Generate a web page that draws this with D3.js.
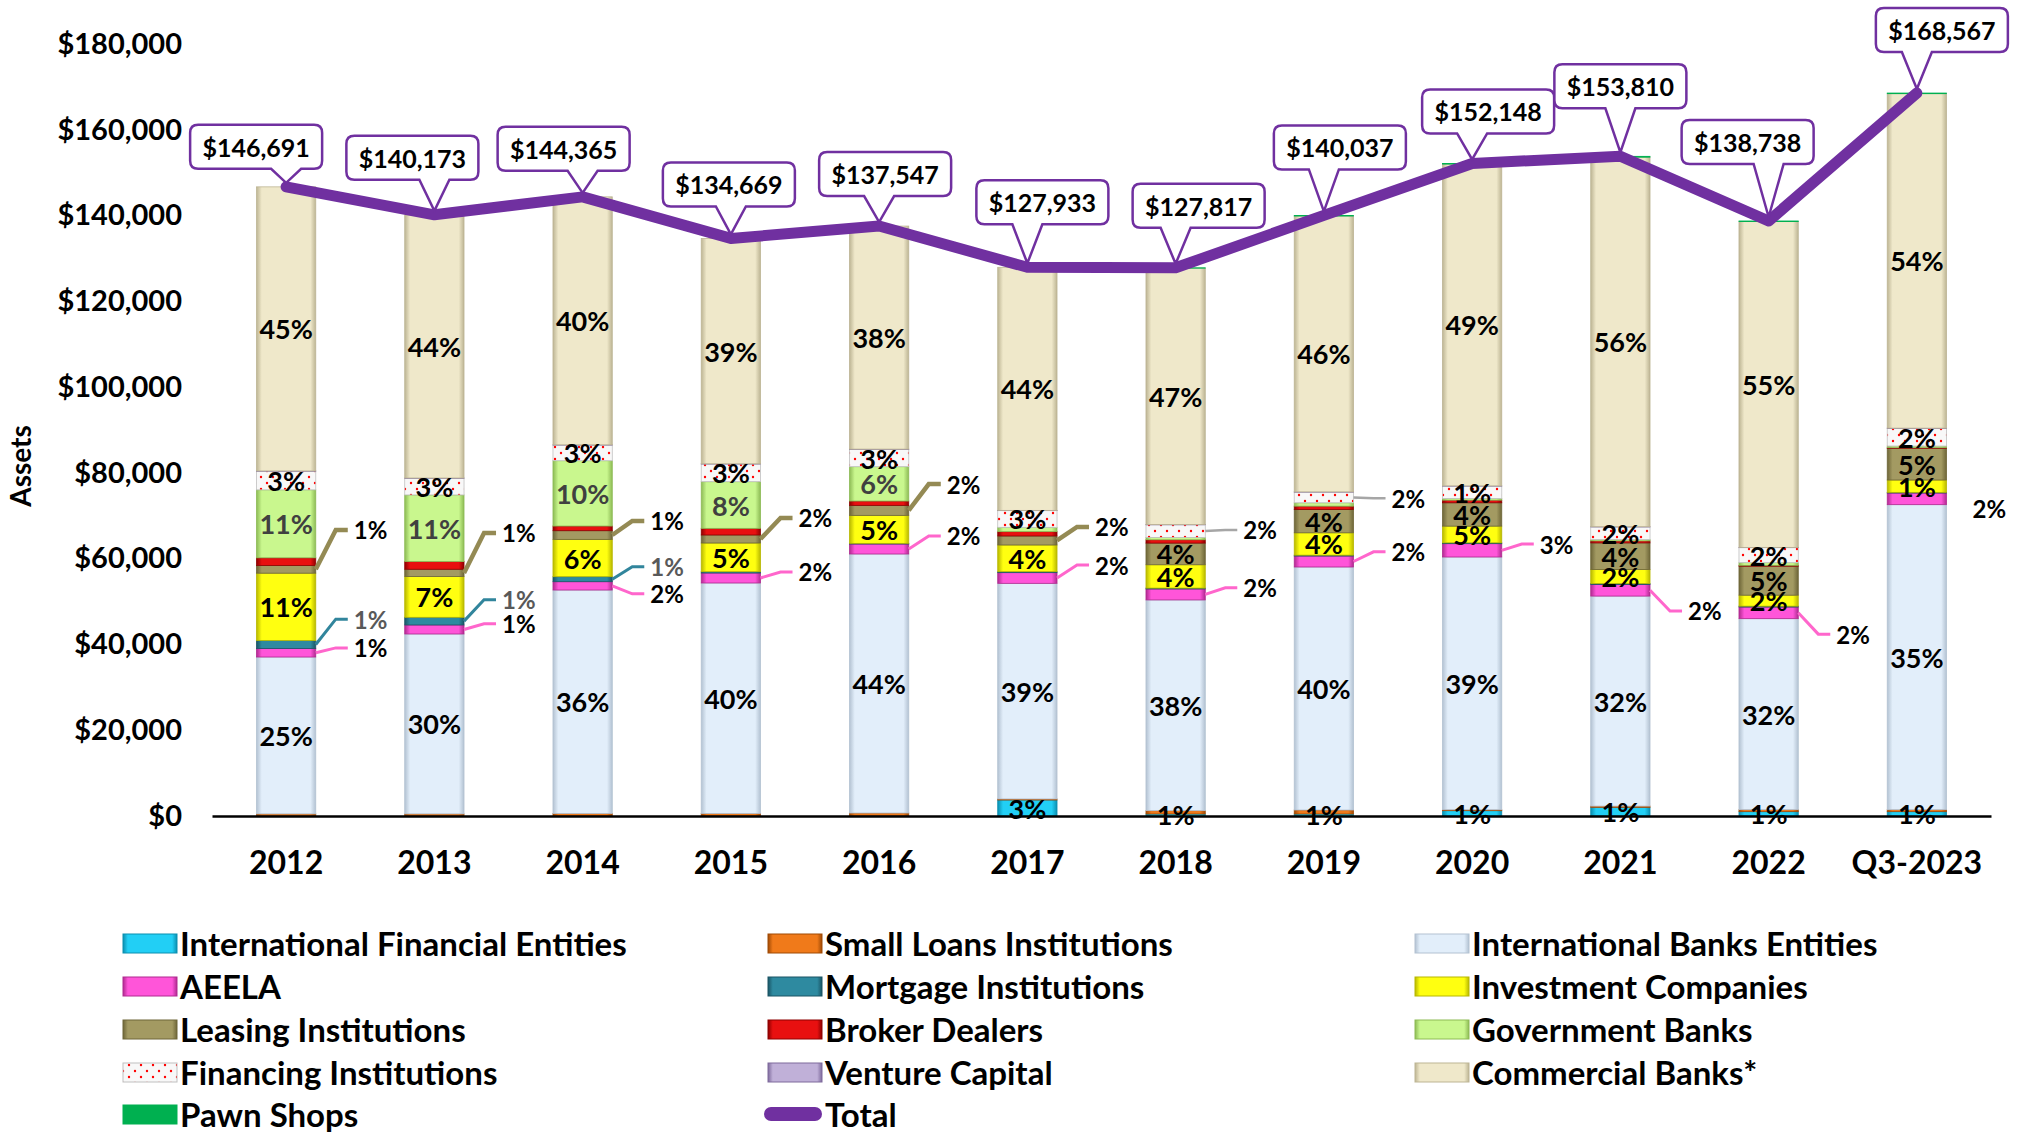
<!DOCTYPE html>
<html>
<head>
<meta charset="utf-8">
<script src="https://cdn.jsdelivr.net/npm/d3@7"></script>
<style>
  body { margin: 0; background: #fff; }
  text { font-family: Lato, "Open Sans", sans-serif; font-weight: 700; }
</style>
</head>
<body>
<div id="chart"></div>
<script>
// values in $ millions
var years = ["2012", "2013", "2014", "2015", "2016", "2017", "2018", "2019", "2020", "2021", "2022", "Q3-2023"];
var totals = [146691, 140173, 144365, 134669, 137547, 127933, 127817, 140037, 152148, 153810, 138738, 168567];

var intlFinancial = [0, 0, 0, 0, 0, 3730, 470, 470, 1240, 2020, 1010, 1010];
var smallLoans    = [500, 500, 600, 600, 700, 250, 780, 930, 230, 300, 470, 470];
var intlBanks     = [36570, 41940, 52090, 53730, 60390, 50270, 49130, 56660, 58920, 48960, 44530, 71110];
var aeela         = [1980, 2100, 1940, 2330, 2330, 2490, 2560, 2560, 3110, 2720, 2720, 2720];
var mortgage      = [1870, 1790, 1170, 300, 150, 230, 200, 200, 200, 200, 200, 150];
var investment    = [15700, 9490, 8700, 6690, 6530, 6220, 5440, 5210, 3890, 3260, 2560, 2880];
var leasing       = [1790, 1710, 2020, 1870, 2330, 2100, 5050, 5440, 5440, 6220, 6760, 7380];
var broker        = [1790, 1790, 1090, 1550, 1010, 1010, 780, 780, 620, 470, 200, 150];
var government    = [15850, 15540, 15230, 10880, 8010, 1010, 540, 780, 390, 300, 620, 390];
var financing     = [4350, 3890, 3650, 4120, 4040, 3890, 2950, 2490, 2880, 2950, 3500, 4120];
var venture       = [60, 60, 60, 60, 60, 60, 60, 60, 60, 60, 60, 60];
var commercial    = [66231, 61363, 57815, 52539, 51997, 56673, 59777, 64307, 75018, 86150, 75958, 77977];
var pawn          = [0, 0, 0, 0, 0, 0, 80, 150, 150, 200, 150, 150];

// percentage labels printed inside the segments
var intlFinancialPct = [null, null, null, null, null, "3%", "1%", "1%", "1%", "1%", "1%", "1%"];
var intlBanksPct  = ["25%", "30%", "36%", "40%", "44%", "39%", "38%", "40%", "39%", "32%", "32%", "35%"];
var investmentPct = ["11%", "7%", "6%", "5%", "5%", "4%", "4%", "4%", "5%", "2%", "2%", "1%"];
var leasingPct    = [null, null, null, null, null, null, "4%", "4%", "4%", "4%", "5%", "5%"];
var governmentPct = ["11%", "11%", "10%", "8%", "6%", null, null, null, null, null, null, null];
var financingPct  = ["3%", "3%", "3%", "3%", "3%", "3%", null, null, "1%", "2%", "2%", "2%"];
var commercialPct = ["45%", "44%", "40%", "39%", "38%", "44%", "47%", "46%", "49%", "56%", "55%", "54%"];

// labels pulled out of the bar: series, year index, text, label height ($)
var callouts = [
  ["Leasing Institutions", 0, "1%", 66700], ["Mortgage Institutions", 0, "1%", 45900], ["AEELA", 0, "1%", 39200],
  ["Leasing Institutions", 1, "1%", 66000], ["Mortgage Institutions", 1, "1%", 50400], ["AEELA", 1, "1%", 44800],
  ["Leasing Institutions", 2, "1%", 68800], ["Mortgage Institutions", 2, "1%", 58100], ["AEELA", 2, "2%", 51800],
  ["Leasing Institutions", 3, "2%", 69500], ["AEELA", 3, "2%", 56900],
  ["Leasing Institutions", 4, "2%", 77400], ["AEELA", 4, "2%", 65300],
  ["Leasing Institutions", 5, "2%", 67400], ["AEELA", 5, "2%", 58500],
  ["Financing Institutions", 6, "2%", 66700], ["AEELA", 6, "2%", 53200],
  ["Financing Institutions", 7, "2%", 74100], ["AEELA", 7, "2%", 61600],
  ["AEELA", 8, "3%", 63400],
  ["AEELA", 9, "2%", 47800],
  ["AEELA", 10, "2%", 42400],
  ["AEELA", 11, "2%", 71800]
];

// where the total boxes sit relative to their point
var boxDx = [-30, -22, -19, -2, 6, 15, 23, 16, 16, 0, -21, 25];
var boxDy = [-40, -57, -48, -54, -52, -65, -62, -68, -52, -70, -79, -63];

var seriesNames = ["International Financial Entities", "Small Loans Institutions", "International Banks Entities",
  "AEELA", "Mortgage Institutions", "Investment Companies", "Leasing Institutions", "Broker Dealers",
  "Government Banks", "Financing Institutions", "Venture Capital", "Commercial Banks*", "Pawn Shops"];
var seriesValues = [intlFinancial, smallLoans, intlBanks, aeela, mortgage, investment, leasing, broker,
  government, financing, venture, commercial, pawn];

var insideLabels = {
  "International Financial Entities": intlFinancialPct,
  "International Banks Entities": intlBanksPct,
  "Investment Companies": investmentPct,
  "Leasing Institutions": leasingPct,
  "Government Banks": governmentPct,
  "Financing Institutions": financingPct,
  "Commercial Banks*": commercialPct
};

// base colour and edge colour of each series
var fills = {
  "International Financial Entities": ["#22CFF5", "#0B8FB0"],
  "Small Loans Institutions": ["#F07A1A", "#A04A05"],
  "International Banks Entities": ["#E2EEFA", "#B3C2D2"],
  "AEELA": ["#FF55D9", "#B02A90"],
  "Mortgage Institutions": ["#2E8AA0", "#1A5565"],
  "Investment Companies": ["#FFFF10", "#B8B800"],
  "Leasing Institutions": ["#A39A62", "#6E6638"],
  "Broker Dealers": ["#E81010", "#8E0000"],
  "Government Banks": ["#C9F78E", "#8DBB55"],
  "Financing Institutions": ["#FAFAFA", "#C0C0C0"],
  "Venture Capital": ["#C0B0D8", "#7E6A9C"],
  "Commercial Banks*": ["#EFE8CA", "#BDB594"],
  "Pawn Shops": ["#00B050", "#00B050"]
};
var calloutColors = {
  "Leasing Institutions": ["#948A54", 4.5, "#000"],
  "Mortgage Institutions": ["#31859C", 3, "#595959"],
  "AEELA": ["#FF66CC", 3, "#000"],
  "Financing Institutions": ["#A6A6A6", 2.5, "#000"]
};

var width = 2017, height = 1135;

var svg = d3.select("#chart").append("svg")
    .attr("width", width)
    .attr("height", height)
    .style("background", "#fff");

var defs = svg.append("defs");
seriesNames.forEach(function (name, i) {
    var g = defs.append("linearGradient").attr("id", "g" + i)
        .attr("x1", 0).attr("x2", 1).attr("y1", 0).attr("y2", 0);
    g.append("stop").attr("offset", "0%").attr("stop-color", fills[name][1]);
    g.append("stop").attr("offset", "9%").attr("stop-color", fills[name][0]);
    g.append("stop").attr("offset", "91%").attr("stop-color", fills[name][0]);
    g.append("stop").attr("offset", "100%").attr("stop-color", fills[name][1]);
});
var pat = defs.append("pattern").attr("id", "dots")
    .attr("patternUnits", "userSpaceOnUse").attr("width", 12).attr("height", 12);
pat.append("rect").attr("width", 12).attr("height", 12).attr("fill", "#F8F8F8");
pat.append("circle").attr("cx", 3).attr("cy", 3).attr("r", 1.2).attr("fill", "#FF0000");
pat.append("circle").attr("cx", 9).attr("cy", 9).attr("r", 1.2).attr("fill", "#FF0000");

function fillOf(name) {
    return name === "Financing Institutions" ? "url(#dots)" : "url(#g" + seriesNames.indexOf(name) + ")";
}

var x = d3.scaleBand().domain(years).range([212, 1991]).paddingInner(0.6).paddingOuter(0.3);
var y = d3.scaleLinear().domain([0, 180000]).range([816, 44]);
var bw = x.bandwidth();

var rows = years.map(function (yr, i) {
    var r = { year: yr };
    seriesNames.forEach(function (name, k) { r[name] = seriesValues[k][i]; });
    return r;
});
var stacked = d3.stack().keys(seriesNames)(rows);

// bars
var layers = svg.append("g").selectAll("g")
    .data(stacked)
    .enter().append("g")
    .attr("fill", function (d) { return fillOf(d.key); })
    .attr("stroke", function (d) { return fills[d.key][1]; })
    .attr("stroke-width", 0.8);

layers.selectAll("rect")
    .data(function (d) { return d; })
    .enter().append("rect")
    .attr("x", function (d) { return x(d.data.year); })
    .attr("width", bw)
    .attr("y", function (d) { return y(d[1]); })
    .attr("height", function (d) { return Math.max(0, y(d[0]) - y(d[1])); });

// labels inside the segments
stacked.forEach(function (layer) {
    var labels = insideLabels[layer.key];
    if (!labels) return;
    layer.forEach(function (d, i) {
        if (!labels[i]) return;
        svg.append("text")
            .attr("x", x(d.data.year) + bw / 2)
            .attr("y", (y(d[0]) + y(d[1])) / 2)
            .attr("text-anchor", "middle")
            .attr("dominant-baseline", "central")
            .attr("font-size", 27)
            .attr("fill", layer.key === "Government Banks" ? "#404040" : "#000")
            .text(labels[i]);
    });
});

// callout labels with leader lines
callouts.forEach(function (c) {
    var layer = stacked[seriesNames.indexOf(c[0])];
    var d = layer[c[1]];
    var right = x(years[c[1]]) + bw;
    var segMid = (y(d[0]) + y(d[1])) / 2;
    var ly = y(c[3]);
    var style = calloutColors[c[0]];
    var tx = right + 38;
    if (c[1] === years.length - 1) {
        tx = right + 26;
    } else {
        svg.append("path")
            .attr("d", "M" + right + "," + segMid + "L" + (right + 20) + "," + ly + "H" + (right + 32))
            .attr("fill", "none")
            .attr("stroke", style[0])
            .attr("stroke-width", style[1]);
    }
    svg.append("text")
        .attr("x", tx)
        .attr("y", ly)
        .attr("dominant-baseline", "central")
        .attr("font-size", 24)
        .attr("fill", style[2])
        .text(c[2]);
});

// total line
var line = d3.line()
    .x(function (d, i) { return x(years[i]) + bw / 2; })
    .y(function (d) { return y(d); });

svg.append("path")
    .datum(totals)
    .attr("d", line)
    .attr("fill", "none")
    .attr("stroke", "#7030A0")
    .attr("stroke-width", 11)
    .attr("stroke-linejoin", "round")
    .attr("stroke-linecap", "round");

// total callout boxes
function boxPath(cx, cy, w, h, r, tx, ty) {
    var l = cx - w / 2, rt = cx + w / 2, t = cy - h / 2, b = cy + h / 2;
    var bc = Math.max(l + r + 16, Math.min(rt - r - 16, tx));
    var hw = 15;
    return "M" + (l + r) + "," + t + "H" + (rt - r) + "Q" + rt + "," + t + " " + rt + "," + (t + r) +
        "V" + (b - r) + "Q" + rt + "," + b + " " + (rt - r) + "," + b +
        "H" + (bc + hw) + "L" + tx + "," + ty + "L" + (bc - hw) + "," + b +
        "H" + (l + r) + "Q" + l + "," + b + " " + l + "," + (b - r) +
        "V" + (t + r) + "Q" + l + "," + t + " " + (l + r) + "," + t + "Z";
}

totals.forEach(function (v, i) {
    var px = x(years[i]) + bw / 2, py = y(v);
    var cx = px + boxDx[i], cy = py + boxDy[i];
    svg.append("path")
        .attr("d", boxPath(cx, cy, 132, 44, 8, px, py - 4))
        .attr("fill", "#fff")
        .attr("stroke", "#7030A0")
        .attr("stroke-width", 2.5);
    svg.append("text")
        .attr("x", cx)
        .attr("y", cy)
        .attr("text-anchor", "middle")
        .attr("dominant-baseline", "central")
        .attr("font-size", 25)
        .text("$" + d3.format(",")(v));
});

// axes
var xAxis = svg.append("g")
    .attr("transform", "translate(0,816)")
    .call(d3.axisBottom(x).tickSize(0).tickSizeOuter(0));
xAxis.select(".domain").attr("stroke", "#000").attr("stroke-width", 2.5);
xAxis.selectAll("text")
    .attr("y", 47).attr("dy", "0.35em")
    .attr("font-size", 32)
    .attr("font-family", "Lato, sans-serif")
    .attr("fill", "#000");

var yAxis = svg.append("g")
    .attr("transform", "translate(182,0)")
    .call(d3.axisLeft(y).tickValues(d3.range(0, 180001, 20000)).tickSize(0).tickPadding(0)
        .tickFormat(function (d) { return "$" + d3.format(",")(d); }));
yAxis.select(".domain").remove();
yAxis.selectAll("text")
    .attr("font-size", 29)
    .attr("font-family", "Lato, sans-serif")
    .attr("fill", "#000");

svg.append("text")
    .attr("transform", "translate(31,466) rotate(-90)")
    .attr("text-anchor", "middle")
    .attr("font-size", 28)
    .text("Assets");

// legend
var legendCols = [123, 768, 1415];
var legendRows = [943, 986, 1029, 1072, 1114];
var legendItems = seriesNames.concat(["Total"]);
legendItems.forEach(function (name, i) {
    var lx = legendCols[i % 3], ly = legendRows[Math.floor(i / 3)];
    if (name === "Total") {
        svg.append("rect").attr("x", lx - 4).attr("y", ly - 7).attr("width", 58).attr("height", 14)
            .attr("rx", 7).attr("fill", "#7030A0");
    } else {
        svg.append("rect").attr("x", lx).attr("y", ly - 9).attr("width", 54).attr("height", 19)
            .attr("fill", fillOf(name))
            .attr("stroke", fills[name][1]).attr("stroke-width", 1);
    }
    svg.append("text")
        .attr("x", lx + 57)
        .attr("y", ly)
        .attr("dominant-baseline", "central")
        .attr("font-size", 33)
        .text(name);
});
</script>
</body>
</html>
